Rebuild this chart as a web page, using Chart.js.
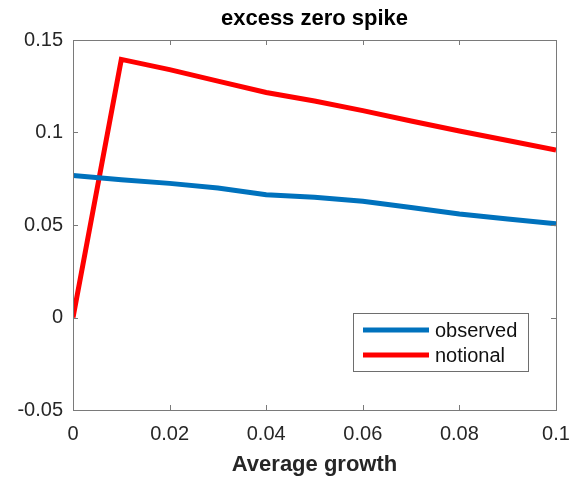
<!DOCTYPE html>
<html>
<head>
<meta charset="utf-8">
<script src="https://cdn.jsdelivr.net/npm/chart.js@4"></script>
<style>
  html, body { margin: 0; padding: 0; background: #fff; }
  #wrap { width: 573px; height: 480px; }
</style>
</head>
<body>
<div id="wrap"><canvas id="c"></canvas></div>
<script>
// data
const growth = [0, 0.01, 0.02, 0.03, 0.04, 0.05, 0.06, 0.07, 0.08, 0.09, 0.1];
const observed = [0.0767, 0.0745, 0.0725, 0.0700, 0.0664, 0.0650, 0.0628, 0.0595, 0.0560, 0.0533, 0.0507];
const notional = [0, 0.1395, 0.1340, 0.1278, 0.1216, 0.1170, 0.1118, 0.1062, 0.1008, 0.0957, 0.0905];
const xTicks = [0, 0.02, 0.04, 0.06, 0.08, 0.1];
const yTicks = [-0.05, 0, 0.05, 0.1, 0.15];

const FONT = "'Liberation Sans', Arial, sans-serif";
const fmt = v => String(parseFloat(Number(v).toFixed(4)));

// matlab style box with inward ticks on all four sides
const frame = {
  id: 'frame',
  afterDraw(chart) {
    const { ctx, chartArea: a, scales } = chart;
    ctx.save();
    ctx.strokeStyle = '#7a7a7a';
    ctx.lineWidth = 1;
    ctx.strokeRect(a.left + 0.5, a.top + 0.5, a.right - a.left, a.bottom - a.top);
    ctx.beginPath();
    xTicks.forEach(t => {
      const x = Math.round(scales.x.getPixelForValue(t)) + 0.5;
      ctx.moveTo(x, a.bottom); ctx.lineTo(x, a.bottom - 5);
      ctx.moveTo(x, a.top); ctx.lineTo(x, a.top + 5);
    });
    yTicks.forEach(t => {
      const y = Math.round(scales.y.getPixelForValue(t)) + 0.5;
      ctx.moveTo(a.left, y); ctx.lineTo(a.left + 5, y);
      ctx.moveTo(a.right, y); ctx.lineTo(a.right - 5, y);
    });
    ctx.stroke();
    ctx.restore();
  }
};

// legend box in the lower right corner
const boxLegend = {
  id: 'boxLegend',
  afterDraw(chart) {
    const { ctx } = chart;
    const x0 = 353, y0 = 313, w = 175, h = 58;
    ctx.save();
    ctx.fillStyle = '#fff';
    ctx.fillRect(x0, y0, w, h);
    ctx.strokeStyle = '#6e6e6e';
    ctx.lineWidth = 1;
    ctx.strokeRect(x0 + 0.5, y0 + 0.5, w, h);
    ctx.font = '20px ' + FONT;
    ctx.textBaseline = 'middle';
    chart.data.datasets.forEach((ds, i) => {
      const y = y0 + 17 + i * 25;
      ctx.strokeStyle = ds.borderColor;
      ctx.lineWidth = ds.borderWidth;
      ctx.beginPath();
      ctx.moveTo(x0 + 10, y); ctx.lineTo(x0 + 76, y);
      ctx.stroke();
      ctx.fillStyle = '#111';
      ctx.fillText(ds.label, x0 + 82, y + 1);
    });
    ctx.restore();
  }
};

new Chart(document.getElementById('c'), {
  type: 'line',
  data: {
    datasets: [
      {
        label: 'observed',
        data: growth.map((g, i) => ({ x: g, y: observed[i] })),
        borderColor: '#0072BD',
        borderWidth: 5,
        pointRadius: 0,
        tension: 0
      },
      {
        label: 'notional',
        data: growth.map((g, i) => ({ x: g, y: notional[i] })),
        borderColor: '#FF0000',
        borderWidth: 5,
        pointRadius: 0,
        tension: 0
      }
    ]
  },
  options: {
    responsive: true,
    maintainAspectRatio: false,
    animation: false,
    layout: { padding: { left: 0, right: 17, top: 0, bottom: 0 } },
    plugins: {
      legend: { display: false },
      tooltip: { enabled: false },
      title: {
        display: true,
        text: 'excess zero spike',
        fullSize: false,
        color: '#000',
        font: { family: FONT, size: 22, weight: 'bold' },
        padding: { top: 6, bottom: 7.6 }
      }
    },
    scales: {
      x: {
        type: 'linear',
        min: 0,
        max: 0.1,
        afterBuildTicks: s => { s.ticks = xTicks.map(v => ({ value: v })); },
        afterFit: s => { s.height = 70; s.paddingLeft = 0; s.paddingRight = 0; },
        grid: { display: false, drawTicks: false },
        border: { display: false },
        ticks: {
          color: '#262626',
          padding: 12,
          font: { family: FONT, size: 20 },
          callback: v => fmt(v)
        },
        title: {
          display: true,
          text: 'Average growth',
          color: '#262626',
          font: { family: FONT, size: 22, weight: 'bold' },
          padding: { top: 0, bottom: 2 }
        }
      },
      y: {
        min: -0.05,
        max: 0.15,
        afterBuildTicks: s => { s.ticks = yTicks.map(v => ({ value: v })); },
        afterFit: s => { s.width = 73; s.paddingTop = 0; s.paddingBottom = 0; },
        grid: { display: false, drawTicks: false },
        border: { display: false },
        ticks: {
          color: '#262626',
          padding: 10,
          font: { family: FONT, size: 20 },
          callback: v => fmt(v)
        }
      }
    }
  },
  plugins: [frame, boxLegend]
});
</script>
</body>
</html>
